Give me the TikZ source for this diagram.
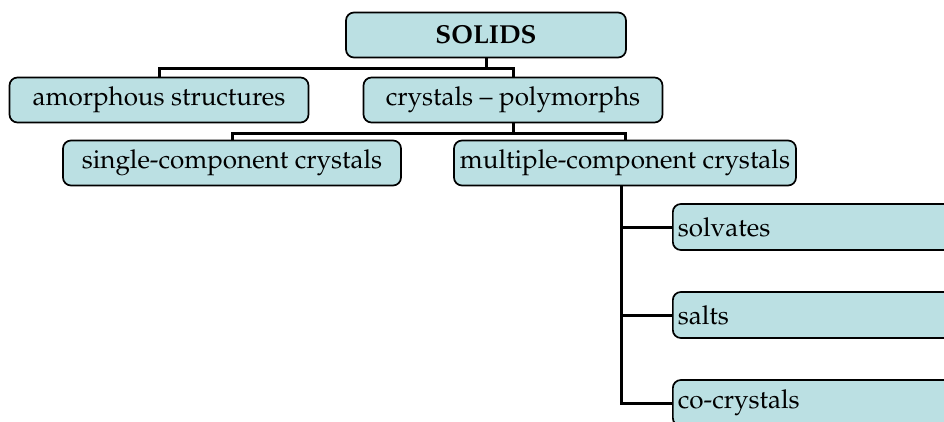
\documentclass[tikz,border=0pt]{standalone}
\usepackage[T1]{fontenc}
\usepackage{mathpazo}
\definecolor{boxblue}{HTML}{BBE0E3}
\tikzset{
  box/.style={draw, line width=1.7pt, rounded corners=8pt, fill=boxblue,
    minimum height=45pt, inner sep=5pt, font=\fontsize{26}{30}\selectfont},
  leaf/.style={box, anchor=west, minimum height=46pt, text width=300pt, align=left},
  link/.style={line width=3pt},
}
\begin{document}
\begin{tikzpicture}[x=1pt,y=-1pt]
  \useasboundingbox (0,0) rectangle (944,422);
  \clip (0,0) rectangle (944,422);
  % top levels
  \node[box, minimum width=280pt, font=\fontsize{26}{30}\selectfont\bfseries] (solids) at (486,35) {SOLIDS};
  \node[box, minimum width=299pt] (amorph) at (159,100) {amorphous structures};
  \node[box, minimum width=299pt] (poly) at (513,100) {crystals -- polymorphs};
  \node[box, minimum width=338pt] (single) at (232,163) {single-component crystals};
  \node[box, minimum width=342pt] (multi) at (625,163) {multiple-component crystals};
  % kinds of multi-component crystals
  \node[leaf] (solvates) at (672,227) {solvates};
  \node[leaf] (salts) at (672,315) {salts};
  \node[leaf] (cocryst) at (672,403) {co-crystals};
  % connectors
  \draw[link] (solids.south) -- ++(0,10) -| (amorph.north);
  \draw[link] (solids.south) -- ++(0,10) -| (poly.north);
  \draw[link] (poly.south) -- ++(0,10) -| (single.north);
  \draw[link] (poly.south) -- ++(0,10) -| (multi.north);
  \draw[link] ([xshift=-4pt]multi.south) |- (solvates.west);
  \draw[link] ([xshift=-4pt]multi.south) |- (salts.west);
  \draw[link] ([xshift=-4pt]multi.south) |- (cocryst.west);
\end{tikzpicture}
\end{document}
